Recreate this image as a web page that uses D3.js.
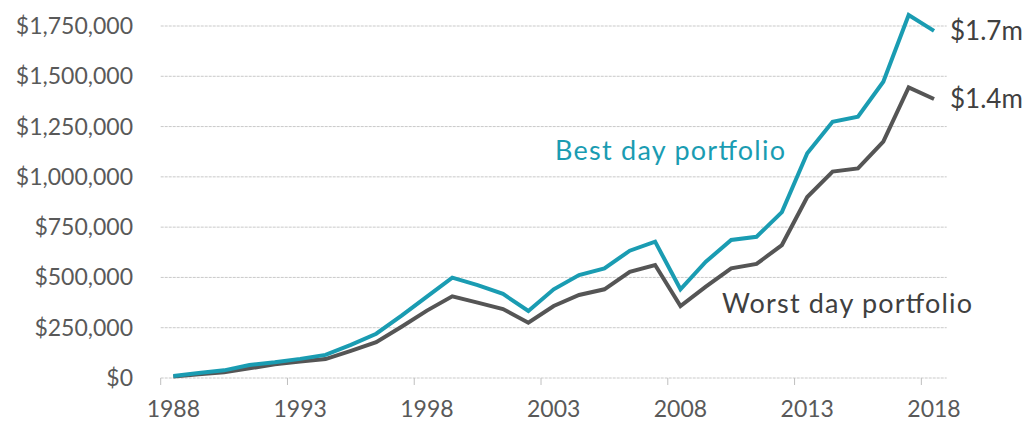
<!DOCTYPE html>
<html><head><meta charset="utf-8">
<script src="https://cdn.jsdelivr.net/npm/d3@7"></script>
<style>body{margin:0;background:#fff}svg{display:block}text{font-family:Lato,"Open Sans",sans-serif}</style>
</head><body><svg id="c" width="1024" height="423"></svg>
<script>
const years = d3.range(1988, 2019);
const bestDay = [10,25,38,65,78,95,115,165,220,310,405,499,462,418,333,441,512,545,633,678,441,578,686,702,825,1117,1274,1299,1473,1805,1726].map(v=>v*1000);
const worstDay = [7,18,28,48,68,82,94,135,178,255,335,406,375,343,275,358,413,441,528,562,358,454,545,567,661,900,1026,1042,1175,1445,1387].map(v=>v*1000);
const yTicks = [0,250000,500000,750000,1000000,1250000,1500000,1750000];
const xLabelYears = [1988,1993,1998,2003,2008,2013,2018];
const seriesNames = ["Best day portfolio","Worst day portfolio"];
const endLabels = ["$1.7m","$1.4m"];

const svg = d3.select("#c");
const x = d3.scaleBand().domain(years).range([160.7, 946.7]).padding(0);
const cx = d => x(d) + x.bandwidth()/2;
const y = d3.scaleLinear().domain([0,1750000]).range([378,26]);
const fmt = v => "$" + d3.format(",")(v);

// gridlines
svg.append("g").selectAll("line").data(yTicks).join("line")
  .attr("x1",160.7).attr("x2",946.7).attr("y1",d=>y(d)).attr("y2",d=>y(d))
  .attr("stroke","#c9c9c9").attr("stroke-width",1).attr("stroke-dasharray","3,1");
// y labels
svg.append("g").selectAll("text").data(yTicks).join("text")
  .attr("x",133).attr("y",d=>y(d)).attr("dy","0.35em").attr("text-anchor","end")
  .attr("fill","#595959").attr("font-size",23).text(fmt);
// x tick marks (between categories)
svg.append("g").selectAll("line").data(xLabelYears).join("line")
  .attr("x1",d=>x(d)).attr("x2",d=>x(d)).attr("y1",378).attr("y2",385)
  .attr("stroke","#bfbfbf").attr("stroke-width",1);
// x labels
svg.append("g").selectAll("text").data(xLabelYears).join("text")
  .attr("x",d=>cx(d)).attr("y",417).attr("text-anchor","middle")
  .attr("fill","#595959").attr("font-size",23).text(d=>d);

const line = d3.line().x((d,i)=>cx(years[i])).y(d=>y(d));
const colors = ["#1a9cb2","#555555"];
svg.append("path").datum(worstDay).attr("d",line).attr("fill","none")
  .attr("stroke",colors[1]).attr("stroke-width",4);
svg.append("path").datum(bestDay).attr("d",line).attr("fill","none")
  .attr("stroke",colors[0]).attr("stroke-width",4);
// end labels
svg.append("text").attr("x",950).attr("y",y(bestDay[30])).attr("dy","0.35em")
  .attr("fill","#404040").attr("font-size",26).text(endLabels[0]);
svg.append("text").attr("x",950).attr("y",y(worstDay[30])).attr("dy","0.35em")
  .attr("fill","#404040").attr("font-size",26).text(endLabels[1]);
// series labels
svg.append("text").attr("x",555).attr("y",160).attr("fill","#1a9cb2").attr("font-size",27)
  .attr("textLength",230).attr("lengthAdjust","spacing").text(seriesNames[0]);
svg.append("text").attr("x",722).attr("y",313).attr("fill","#404040").attr("font-size",27)
  .attr("textLength",250).attr("lengthAdjust","spacing").text(seriesNames[1]);
</script></body></html>
